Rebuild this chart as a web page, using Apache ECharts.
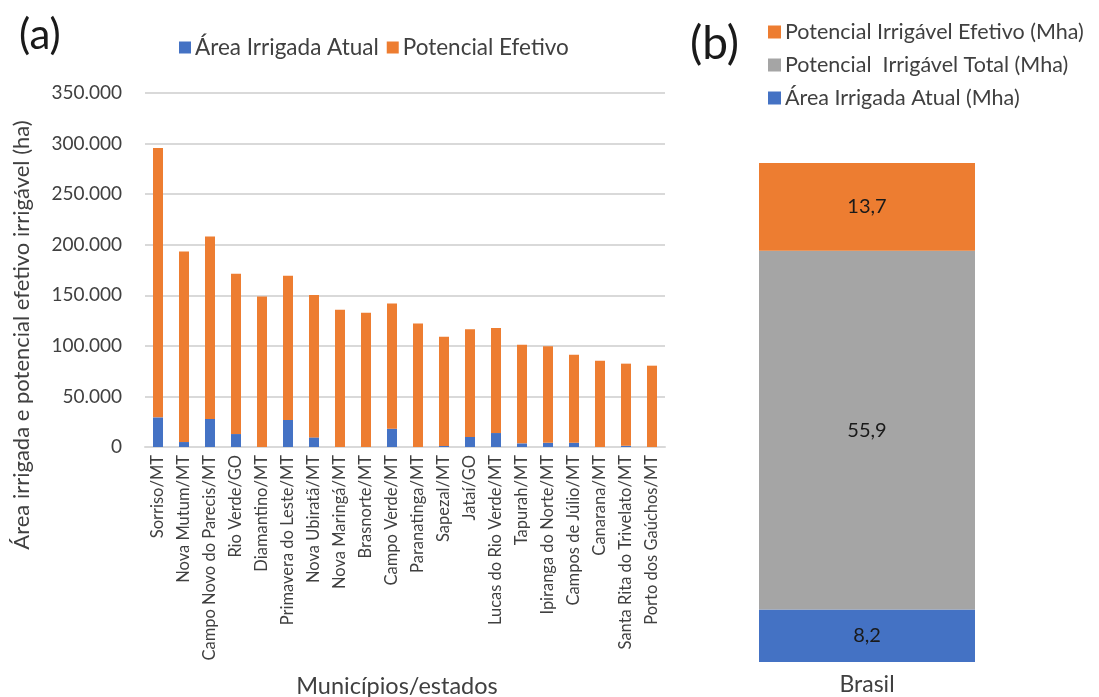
<!DOCTYPE html>
<html>
<head>
<meta charset="utf-8">
<script src="https://cdn.jsdelivr.net/npm/echarts@6/dist/echarts.min.js"></script>
<style>
  html, body { margin: 0; padding: 0; background: #fff; }
  #main { width: 1099px; height: 697px; }
</style>
</head>
<body>
<div id="main"></div>
<script>
// municípios (painel a)
const municipios = [
  'Sorriso/MT', 'Nova Mutum/MT', 'Campo Novo do Parecis/MT', 'Rio Verde/GO',
  'Diamantino/MT', 'Primavera do Leste/MT', 'Nova Ubiratã/MT', 'Nova Maringá/MT',
  'Brasnorte/MT', 'Campo Verde/MT', 'Paranatinga/MT', 'Sapezal/MT', 'Jataí/GO',
  'Lucas do Rio Verde/MT', 'Tapurah/MT', 'Ipiranga do Norte/MT', 'Campos de Júlio/MT',
  'Canarana/MT', 'Santa Rita do Trivelato/MT', 'Porto dos Gaúchos/MT'
]
// área irrigada atual (ha)
const areaAtual = [29300, 4900, 27700, 12800, 0, 26700, 9500, 0, 0, 18100,
  0, 1000, 9900, 13800, 3600, 4200, 4200, 0, 1200, 0]
// potencial efetivo (ha), empilhado sobre a área atual
const potencialEfetivo = [266300, 188500, 180500, 158500, 148900, 142700, 140800, 135700, 132800, 123900,
  122200, 108100, 106400, 103900, 97500, 95300, 87100, 85300, 81200, 80400]
const yTicks = [0, 50000, 100000, 150000, 200000, 250000, 300000, 350000]

// Brasil (painel b), Mha
const brasilCat = ['Brasil']
const brAtual = [8.2]
const brTotal = [55.9]
const brEfetivo = [13.7]

const azul = '#4472C4'
const laranja = '#ED7D31'
const cinza = '#A5A5A5'
const fonte = 'Lato, "Open Sans", sans-serif'

function milhar(v) {
  return String(v).replace(/\B(?=(\d{3})+(?!\d))/g, '.')
}
function virgula(v) {
  return v.toFixed(1).replace('.', ',')
}

const chart = echarts.init(document.getElementById('main'))
const option = {
  animation: false,
  textStyle: { fontFamily: fonte },
  legend: [
    {
      data: ['Área Irrigada Atual', 'Potencial Efetivo'],
      left: 174, top: 31,
      itemWidth: 12, itemHeight: 12, itemGap: 8,
      icon: 'rect',
      textStyle: { fontSize: 22.5, color: '#404040', fontFamily: fonte, padding: [0, 0, 0, -1] }
    },
    {
      data: ['Potencial Irrigável Efetivo (Mha)', 'Potencial  Irrigável Total (Mha)', 'Área Irrigada Atual (Mha)'],
      orient: 'vertical',
      left: 763, top: 16,
      itemWidth: 13, itemHeight: 13, itemGap: 11,
      icon: 'rect',
      textStyle: { fontSize: 21.5, color: '#404040', fontFamily: fonte, padding: [0, 0, 0, -1] }
    }
  ],
  grid: [
    { left: 145, right: 434, top: 93, bottom: 250 },
    { left: 759, width: 216, top: 163, bottom: 35 }
  ],
  xAxis: [
    {
      type: 'category', gridIndex: 0, data: municipios,
      axisLine: { show: true, lineStyle: { color: '#d9d9d9', width: 2 } },
      axisTick: { show: false },
      axisLabel: { rotate: 90, interval: 0, fontSize: 16.5, color: '#404040', margin: 8, fontFamily: fonte }
    },
    {
      type: 'category', gridIndex: 1, data: brasilCat,
      axisLine: { show: false }, axisTick: { show: false },
      axisLabel: { fontSize: 23, color: '#404040', margin: 11, fontFamily: fonte }
    }
  ],
  yAxis: [
    {
      type: 'value', gridIndex: 0, min: 0, max: yTicks[yTicks.length - 1], interval: 50000,
      axisLine: { show: false }, axisTick: { show: false },
      splitLine: { lineStyle: { color: '#d9d9d9', width: 2 } },
      axisLabel: { fontSize: 19, color: '#404040', margin: 23, formatter: milhar, fontFamily: fonte }
    },
    {
      type: 'value', gridIndex: 1, min: 0, max: 77.8, show: false,
      splitLine: { show: false }
    }
  ],
  series: [
    {
      name: 'Área Irrigada Atual', type: 'bar', stack: 'a', xAxisIndex: 0, yAxisIndex: 0,
      data: areaAtual, barWidth: 10, itemStyle: { color: azul }
    },
    {
      name: 'Potencial Efetivo', type: 'bar', stack: 'a', xAxisIndex: 0, yAxisIndex: 0,
      data: potencialEfetivo, barWidth: 10, itemStyle: { color: laranja }
    },
    {
      name: 'Área Irrigada Atual (Mha)', type: 'bar', stack: 'b', xAxisIndex: 1, yAxisIndex: 1,
      data: brAtual, barWidth: '100%', itemStyle: { color: azul },
      label: { show: true, formatter: p => virgula(p.value), fontSize: 20, color: '#1a1a1a', fontFamily: fonte }
    },
    {
      name: 'Potencial  Irrigável Total (Mha)', type: 'bar', stack: 'b', xAxisIndex: 1, yAxisIndex: 1,
      data: brTotal, barWidth: '100%', itemStyle: { color: cinza },
      label: { show: true, formatter: p => virgula(p.value), fontSize: 20, color: '#1a1a1a', fontFamily: fonte }
    },
    {
      name: 'Potencial Irrigável Efetivo (Mha)', type: 'bar', stack: 'b', xAxisIndex: 1, yAxisIndex: 1,
      data: brEfetivo, barWidth: '100%', itemStyle: { color: laranja },
      label: { show: true, formatter: p => virgula(p.value), fontSize: 20, color: '#1a1a1a', fontFamily: fonte }
    }
  ],
  graphic: [
    { type: 'text', left: 19, top: 14, style: { text: '(a)', fontSize: 42, fill: '#1a1a1a', fontFamily: fonte } },
    { type: 'text', left: 690, top: 21, style: { text: '(b)', fontSize: 46, fill: '#1a1a1a', fontFamily: fonte } },
    {
      type: 'text', x: 22, y: 335, rotation: Math.PI / 2,
      style: { text: 'Área irrigada e potencial efetivo irrigável (ha)', fontSize: 22, fill: '#404040',
        fontFamily: fonte, align: 'center', verticalAlign: 'middle' }
    },
    {
      type: 'text', x: 397, y: 686,
      style: { text: 'Municípios/estados', fontSize: 23.5, fill: '#404040', fontFamily: fonte,
        align: 'center', verticalAlign: 'middle' }
    }
  ]
}
chart.setOption(option)
</script>
</body>
</html>
